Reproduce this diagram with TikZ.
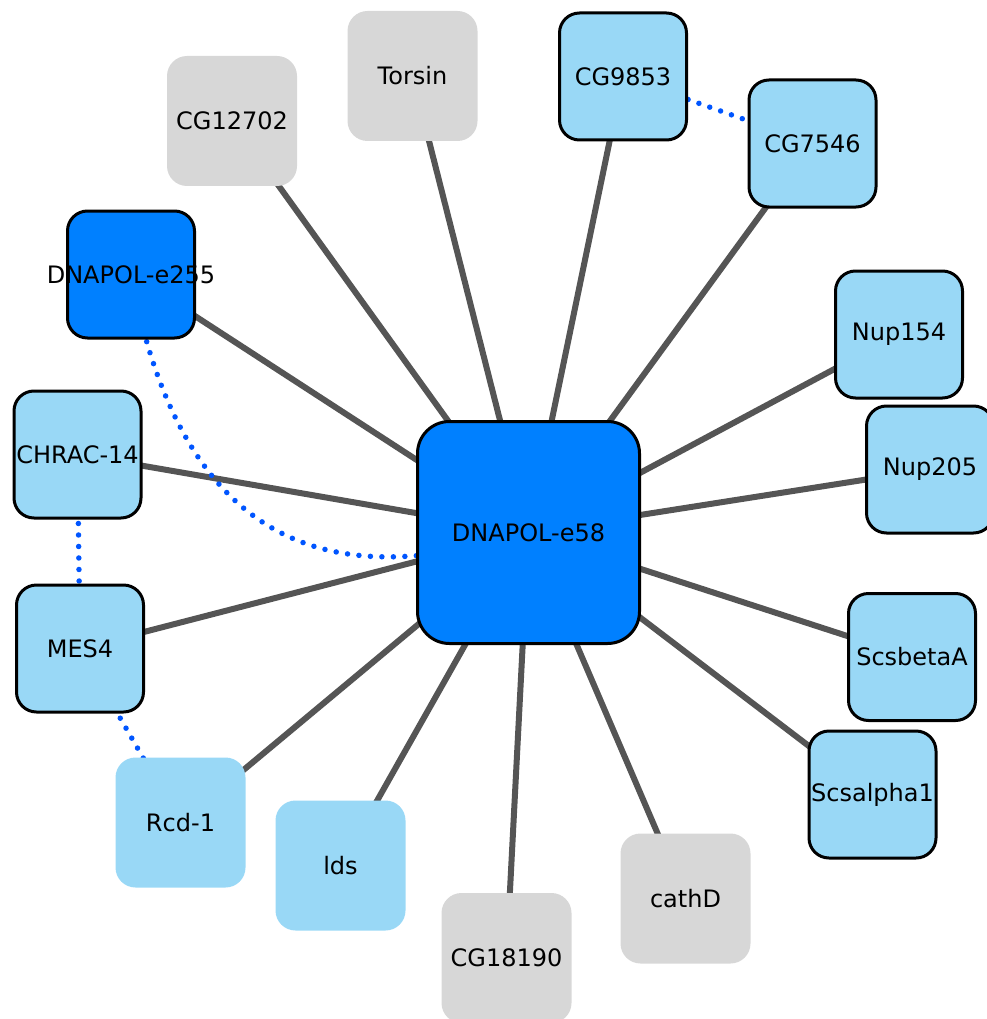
\documentclass[tikz,border=0pt]{standalone}
\usepackage{fontspec}
\setmainfont{DejaVu Sans}
\usetikzlibrary{backgrounds}
\definecolor{hubblue}{HTML}{0080FF}
\definecolor{paleblue}{HTML}{99D8F6}
\definecolor{palegray}{HTML}{D7D7D7}
\definecolor{edgegray}{HTML}{555555}
\definecolor{dotblue}{HTML}{0055FF}
\tikzset{
  gene/.style={rectangle, rounded corners=20pt, inner sep=0pt, text=black,
    font=\fontsize{24}{28}\selectfont},
  framed/.style={gene, draw=black, line width=3pt, minimum size=127pt},
  plain/.style={gene, minimum size=130pt},
  hub/.style={framed, fill=hubblue},
  partner/.style={framed, fill=paleblue},
  softpartner/.style={plain, fill=paleblue},
  unknown/.style={plain, fill=palegray},
  link/.style={draw=edgegray, line width=6pt},
  coexp/.style={draw=dotblue, line width=5.5pt, line cap=round,
    dash pattern=on 0pt off 11.5pt}
}
\begin{document}
\begin{tikzpicture}[x=1pt,y=-1pt]
\useasboundingbox (0,0) rectangle (986,1019);

% central gene
\node[hub, minimum size=222pt, rounded corners=32pt] (e58) at (528.5,532.5) {DNAPOL-e58};

% interaction partners
\node[unknown] (torsin) at (412.5,76) {Torsin};
\node[unknown] (cg12702) at (232,121) {CG12702};
\node[partner] (cg9853) at (623,76.5) {CG9853};
\node[partner] (cg7546) at (812.5,143.5) {CG7546};
\node[hub] (e255) at (131,274.5) {\makebox[0pt]{DNAPOL-e255}};
\node[partner] (nup154) at (899,334.5) {Nup154};
\node[partner] (nup205) at (930,469.5) {Nup205};
\node[partner] (chrac) at (77.5,454.5) {CHRAC-14};
\node[partner] (mes4) at (80,648.5) {MES4};
\node[partner] (scsb) at (912,657) {ScsbetaA};
\node[partner] (scsa) at (872.5,794.5) {Scsalpha1};
\node[softpartner] (rcd1) at (180.5,822.5) {Rcd-1};
\node[softpartner] (lds) at (340.5,865.5) {lds};
\node[unknown] (cg18190) at (506.5,958) {CG18190};
\node[unknown] (cathd) at (685.5,898.5) {cathD};

\begin{scope}[on background layer]
  % physical interactions with the central gene
  \foreach \n in {torsin,cg12702,cg9853,cg7546,e255,nup154,nup205,chrac,
                  mes4,scsb,scsa,rcd1,lds,cg18190,cathd}
    \draw[link] (e58.center) -- (\n.center);
  % co-expression links
  \draw[coexp] (cg9853.center) -- (cg7546.center);
  \draw[coexp] (chrac.center) -- (mes4.center);
  \draw[coexp] (mes4.center) -- (rcd1.center);
  \draw[coexp] (e255.center) .. controls (180,540) and (320,570) .. (440,553)
    -- (e58.center);
\end{scope}
\end{tikzpicture}
\end{document}
